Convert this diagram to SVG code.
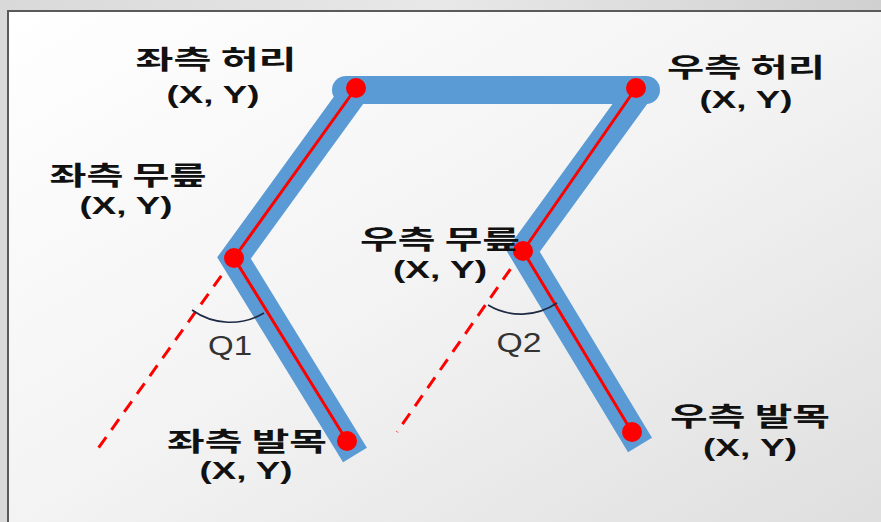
<svg xmlns="http://www.w3.org/2000/svg" width="881" height="522" viewBox="0 0 881 522">
  <defs>
    <linearGradient id="outer" x1="0" y1="0" x2="1" y2="0">
      <stop offset="0" stop-color="#d9d9d9"/>
      <stop offset="0.5" stop-color="#e8e8e8"/>
      <stop offset="1" stop-color="#d0d0d0"/>
    </linearGradient>
    <linearGradient id="inner" x1="0" y1="0" x2="1" y2="1">
      <stop offset="0" stop-color="#ffffff"/>
      <stop offset="0.5" stop-color="#f3f3f3"/>
      <stop offset="1" stop-color="#dedede"/>
    </linearGradient>
    <style>
      .blue { fill: none; stroke: #5B9BD5; stroke-width: 28; }
      .bone { fill: none; stroke: #FF0000; stroke-width: 3; }
      .dash { fill: none; stroke: #FF0000; stroke-width: 3; stroke-dasharray: 13 9; }
      .joint { fill: #FF0000; }
      .arc { fill: none; stroke: #1F2A44; stroke-width: 1.6; }
      .lbl { font-family: "Noto Sans CJK KR", "Noto Sans", sans-serif; font-weight: bold; font-size: 26px; fill: #111; text-anchor: middle; }
      .xy { font-family: "Liberation Sans", "Noto Sans", sans-serif; font-weight: bold; font-size: 23px; fill: #111; text-anchor: middle; }
      .q { font-family: "Liberation Sans", "Noto Sans", sans-serif; font-size: 27px; fill: #333; text-anchor: middle; }
    </style>
  </defs>
  <rect x="0" y="0" width="881" height="522" fill="url(#outer)"/>
  <rect x="8" y="11" width="880" height="520" fill="url(#inner)" stroke="#5a5a5a" stroke-width="2"/>

  <g id="connectors">
    <line class="dash" x1="234" y1="258" x2="97" y2="450"/>
    <line class="dash" x1="523" y1="251" x2="397" y2="432"/>
    <path class="blue" d="M355,455 L234,258 L356,90" stroke-linejoin="miter"/>
    <path class="blue" d="M640,445 L523,251 L640,90" stroke-linejoin="miter"/>
    <line class="blue" x1="346" y1="90" x2="646" y2="90" stroke-width="32" stroke-linecap="round"/>
    <polyline class="bone" points="356,88 234,258 347,441"/>
    <polyline class="bone" points="636,88 523,251 632,432"/>
    <path class="arc" d="M192,310 A66,66 0 0 0 264,313"/>
    <path class="arc" d="M488,305 A64,64 0 0 0 557,303"/>
  </g>

  <g id="left-hip">
    <circle class="joint" cx="356" cy="88" r="10"/>
    <text class="lbl" x="216" y="69" textLength="161" lengthAdjust="spacingAndGlyphs">좌측 허리</text>
    <text class="xy" x="213" y="103" textLength="93" lengthAdjust="spacingAndGlyphs">(X, Y)</text>
  </g>
  <g id="right-hip">
    <circle class="joint" cx="636" cy="88" r="10"/>
    <text class="lbl" x="746" y="77" textLength="158" lengthAdjust="spacingAndGlyphs">우측 허리</text>
    <text class="xy" x="746" y="108" textLength="93" lengthAdjust="spacingAndGlyphs">(X, Y)</text>
  </g>
  <g id="left-knee">
    <circle class="joint" cx="234" cy="258" r="10"/>
    <text class="lbl" x="128" y="185" textLength="157" lengthAdjust="spacingAndGlyphs">좌측 무릎</text>
    <text class="xy" x="126" y="214" textLength="93" lengthAdjust="spacingAndGlyphs">(X, Y)</text>
  </g>
  <g id="right-knee">
    <circle class="joint" cx="523" cy="251" r="10"/>
    <text class="lbl" x="440" y="249" textLength="160" lengthAdjust="spacingAndGlyphs">우측 무릎</text>
    <text class="xy" x="440" y="278" textLength="94" lengthAdjust="spacingAndGlyphs">(X, Y)</text>
  </g>
  <g id="left-ankle">
    <circle class="joint" cx="347" cy="441" r="10"/>
    <text class="lbl" x="247" y="451" textLength="160" lengthAdjust="spacingAndGlyphs">좌측 발목</text>
    <text class="xy" x="246" y="479" textLength="93" lengthAdjust="spacingAndGlyphs">(X, Y)</text>
  </g>
  <g id="right-ankle">
    <circle class="joint" cx="632" cy="432" r="10"/>
    <text class="lbl" x="750" y="426" textLength="160" lengthAdjust="spacingAndGlyphs">우측 발목</text>
    <text class="xy" x="750" y="456" textLength="94" lengthAdjust="spacingAndGlyphs">(X, Y)</text>
  </g>
  <g id="angle-labels">
    <text class="q" x="230" y="355" textLength="44" lengthAdjust="spacingAndGlyphs">Q1</text>
    <text class="q" x="519" y="352" textLength="45" lengthAdjust="spacingAndGlyphs">Q2</text>
  </g>
</svg>
